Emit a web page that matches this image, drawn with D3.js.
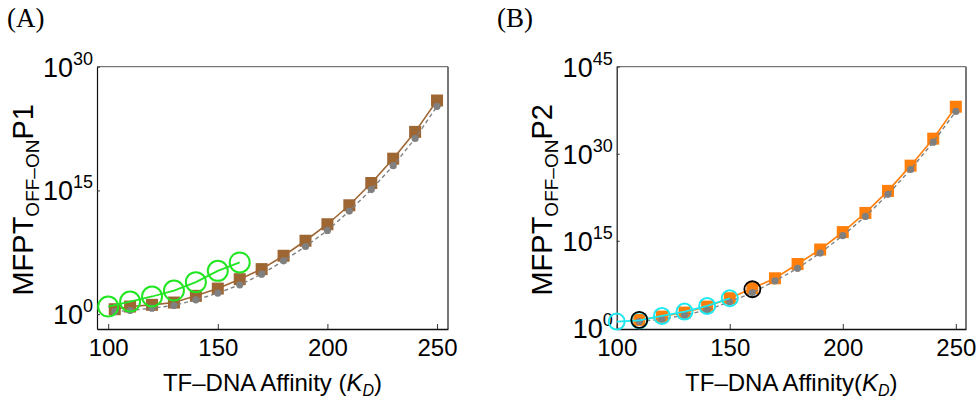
<!DOCTYPE html>
<html>
<head>
<meta charset="utf-8">
<script src="https://cdn.jsdelivr.net/npm/d3@7"></script>
<style>
  body { margin: 0; background: #fff; }
  svg { display: block; }
  text { font-family: "Liberation Sans", Arial, sans-serif; fill: #000; }
  .panel-tag { font-family: "Liberation Serif", "DejaVu Serif", serif; font-size: 27px; }
</style>
</head>
<body>
<svg width="980" height="400"></svg>
<script>
// panel A: affinity vs log10(MFPT)
const affA = [103, 110, 120, 130, 140, 150, 160, 170, 180, 190, 200, 210, 220, 230, 240, 250];
const brownLog = [0.6, 0.92, 1.13, 1.41, 2.22, 3.1, 4.24, 5.46, 7.08, 8.9, 10.9, 13.2, 15.9, 18.85, 22.1, 25.9];
const grayLogA = [0.3, 0.44, 0.73, 1.05, 1.74, 2.55, 3.56, 4.85, 6.47, 8.2, 10.15, 12.5, 15.1, 18.0, 21.3, 25.2];
const greenAff = [100, 110, 120, 130, 140, 150, 160];
const greenLog = [0.92, 1.53, 2.14, 2.86, 3.88, 5.25, 6.27];

// panel B
const affB = [110, 120, 130, 140, 150, 160, 170, 180, 190, 200, 210, 220, 230, 240, 250];
const orangeLog = [1.37, 1.94, 2.63, 3.66, 5.1, 6.82, 8.54, 11.0, 13.5, 16.5, 19.8, 23.6, 27.95, 32.6, 38.1];
const grayLogB = [1.08, 1.49, 2.18, 3.09, 4.47, 6.07, 8.08, 10.25, 12.9, 15.9, 19.2, 23.0, 27.3, 32.0, 37.3];
const cyanAff = [100, 110, 120, 130, 140, 150];
const cyanLog = [1.08, 1.3, 2.06, 2.8, 3.78, 5.1];
const blackAff = [110, 160];
const blackLog = [1.37, 6.65];

const xTicks = [100, 150, 200, 250];
const yTicksA = [0, 15, 30];
const yTicksB = [0, 15, 30, 45];

const svg = d3.select('svg');

function pts(xs, ls) {
    return xs.map((x, i) => ({ x: x, y: Math.pow(10, ls[i]) }));
}

function drawPanel(o) {
    const g = svg.append('g');
    const x = d3.scaleLinear().domain(o.xDomain).range([o.left, o.right]);
    const y = d3.scaleLog().domain(o.yDomain).range([o.bottom, o.top]);

    // frame: top and right lighter
    g.append('line').attr('x1', o.left).attr('x2', o.right).attr('y1', o.top).attr('y2', o.top)
        .attr('stroke', '#555').attr('stroke-width', 1);
    g.append('line').attr('x1', o.right).attr('x2', o.right).attr('y1', o.top).attr('y2', o.bottom)
        .attr('stroke', '#777').attr('stroke-width', 2);

    // x axis, ticks pointing in
    const xa = g.append('g').attr('transform', `translate(0,${o.bottom})`)
        .call(d3.axisBottom(x).tickValues(xTicks).tickSize(-5).tickSizeOuter(0).tickPadding(9));
    xa.select('.domain').attr('stroke', '#111').attr('stroke-width', 1.6);
    xa.selectAll('.tick line').attr('stroke', '#333');
    xa.selectAll('.tick text').attr('font-size', 24).attr('font-family', '"Liberation Sans", Arial, sans-serif')
        .attr('dy', '0.75em');

    // y axis
    const ya = g.append('g').attr('transform', `translate(${o.left},0)`)
        .call(d3.axisLeft(y).tickValues(o.yTicks.map(t => Math.pow(10, t))).tickSize(-3).tickSizeOuter(0).tickFormat(''));
    ya.select('.domain').attr('stroke', '#111').attr('stroke-width', 1.2);
    ya.selectAll('.tick line').attr('stroke', '#333');

    o.yTicks.forEach(t => {
        const lab = g.append('text')
            .attr('x', o.left - 4)
            .attr('y', y(Math.pow(10, t)) + 10)
            .attr('text-anchor', 'end')
            .attr('font-size', 27);
        lab.append('tspan').text('10');
        lab.append('tspan').attr('font-size', 18).attr('dy', -12).text(t);
    });

    const line = d3.line().x(d => x(d.x)).y(d => y(d.y));

    // main series line + squares
    const main = pts(o.mainX, o.mainLog);
    g.append('path').datum(main).attr('d', line).attr('fill', 'none')
        .attr('stroke', o.mainColor).attr('stroke-width', 1.6);
    g.selectAll(null).data(main).enter().append('rect')
        .attr('x', d => x(d.x) - 6).attr('y', d => y(d.y) - 6)
        .attr('width', 12).attr('height', 12).attr('fill', o.mainColor);

    // gray dashed reference
    const gray = pts(o.mainX, o.grayLog);
    g.append('path').datum(gray).attr('d', line).attr('fill', 'none')
        .attr('stroke', '#808080').attr('stroke-width', 1.4).attr('stroke-dasharray', '4,3');
    g.selectAll(null).data(gray).enter().append('circle')
        .attr('cx', d => x(d.x)).attr('cy', d => y(d.y)).attr('r', 3.6).attr('fill', '#808080');

    // open circle series
    const circ = pts(o.circX, o.circLog);
    g.append('path').datum(circ).attr('d', line).attr('fill', 'none')
        .attr('stroke', o.circColor).attr('stroke-width', 1.8);
    g.selectAll(null).data(circ).enter().append('circle')
        .attr('cx', d => x(d.x)).attr('cy', d => y(d.y)).attr('r', o.circR)
        .attr('fill', 'none').attr('stroke', o.circColor).attr('stroke-width', 2);

    if (o.blackX) {
        const bl = pts(o.blackX, o.blackLog);
        g.selectAll(null).data(bl).enter().append('circle')
            .attr('cx', d => x(d.x)).attr('cy', d => y(d.y)).attr('r', 8)
            .attr('fill', 'none').attr('stroke', '#000').attr('stroke-width', 1.8);
    }

    // axis titles
    const yt = g.append('text')
        .attr('transform', `translate(${o.yTitleX},${(o.top + o.bottom) / 2 + 2}) rotate(-90)`)
        .attr('text-anchor', 'middle').attr('font-size', 29);
    yt.append('tspan').text('MFPT');
    yt.append('tspan').attr('font-size', 19).attr('dy', 6).text('OFF\u2013ON');
    yt.append('tspan').attr('dy', -6).text(o.yName);

    const xt = g.append('text')
        .attr('x', (o.left + o.right) / 2).attr('y', 391)
        .attr('text-anchor', 'middle').attr('font-size', 24);
    xt.append('tspan').text(o.xName);
    xt.append('tspan').attr('font-style', 'italic').text('K');
    xt.append('tspan').attr('font-style', 'italic').attr('font-size', 16).attr('dy', 5).text('D');
    xt.append('tspan').attr('dy', -5).text(')');

    svg.append('text').attr('class', 'panel-tag').attr('x', o.tagX).attr('y', 27).text(o.tag);
}

drawPanel({
    tag: '(A)', tagX: 7,
    left: 97, right: 448, top: 66.7, bottom: 329,
    xDomain: [94.9, 255], yDomain: [Math.pow(10, -1.8), 1e30], yTicks: yTicksA,
    mainX: affA, mainLog: brownLog, grayLog: grayLogA, mainColor: '#9d6633',
    circX: greenAff, circLog: greenLog, circColor: '#22e622', circR: 10,
    yTitleX: 33, yName: 'P1', xName: 'TF\u2013DNA Affinity ('
});

drawPanel({
    tag: '(B)', tagX: 497,
    left: 616.7, right: 966, top: 66.7, bottom: 329,
    xDomain: [100, 254.5], yDomain: [Math.pow(10, -0.2), 1e45], yTicks: yTicksB,
    mainX: affB, mainLog: orangeLog, grayLog: grayLogB, mainColor: '#ff7f0a',
    circX: cyanAff, circLog: cyanLog, circColor: '#1ee8f0', circR: 8,
    blackX: blackAff, blackLog: blackLog,
    yTitleX: 552, yName: 'P2', xName: 'TF\u2013DNA Affinity('
});
</script>
</body>
</html>
